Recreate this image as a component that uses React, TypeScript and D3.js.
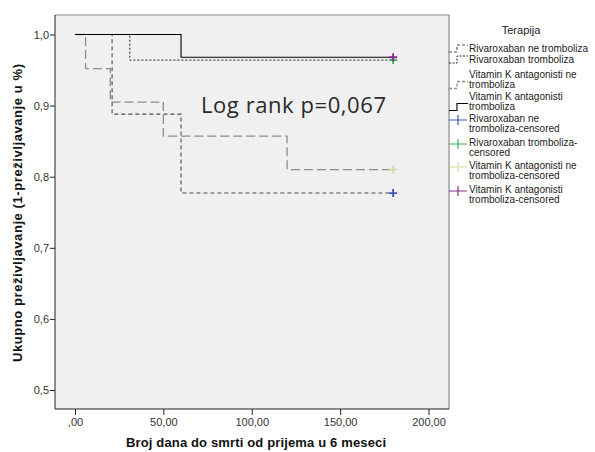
import React, { useEffect, useRef } from 'react';
import * as d3 from 'd3';

// Kaplan-Meier steps
const rivaNeTimes = [0, 21, 60, 180];
const rivaNeSurv = [1, 0.888, 0.777, 0.777];
const rivaTimes = [0, 31, 180];
const rivaSurv = [1, 0.964, 0.964];
const vkaNeTimes = [0, 6, 20, 50, 120, 180];
const vkaNeSurv = [1, 0.952, 0.905, 0.857, 0.81, 0.81];
const vkaTimes = [0, 60, 180];
const vkaSurv = [1, 0.968, 0.968];

const xTicks = [0, 50, 100, 150, 200];
const yTicks = [0.5, 0.6, 0.7, 0.8, 0.9, 1.0];

const series = [
  { name: 'Rivaroxaban ne tromboliza', times: rivaNeTimes, surv: rivaNeSurv, color: '#4a4a4a', dash: '4,3', width: 1.1 },
  { name: 'Rivaroxaban tromboliza', times: rivaTimes, surv: rivaSurv, color: '#222', dash: '2,2', width: 1 },
  { name: 'Vitamin K antagonisti ne tromboliza', times: vkaNeTimes, surv: vkaNeSurv, color: '#8c8c8c', dash: '9,4', width: 1.3 },
  { name: 'Vitamin K antagonisti tromboliza', times: vkaTimes, surv: vkaSurv, color: '#000', dash: null, width: 1.1 },
];

const censored = [
  { lines: ['Rivaroxaban ne', 'tromboliza-censored'], color: '#3d55b8', t: 180, s: rivaNeSurv[rivaNeSurv.length - 1] },
  { lines: ['Rivaroxaban tromboliza-', 'censored'], color: '#3cb050', t: 180, s: rivaSurv[rivaSurv.length - 1] },
  { lines: ['Vitamin K antagonisti ne', 'tromboliza-censored'], color: '#dcd6a0', t: 180, s: vkaNeSurv[vkaNeSurv.length - 1] },
  { lines: ['Vitamin K antagonisti', 'tromboliza-censored'], color: '#8a2a8e', t: 180, s: vkaSurv[vkaSurv.length - 1] },
];

const lineLegend = [
  { lines: ['Rivaroxaban ne tromboliza'], y: 48 },
  { lines: ['Rivaroxaban tromboliza'], y: 59 },
  { lines: ['Vitamin K antagonisti ne', 'tromboliza'], y: 74 },
  { lines: ['Vitamin K antagonisti', 'tromboliza'], y: 96 },
];
const censLegendY = [118, 142, 165, 189];

const App = () => {
  const svgRef = useRef(null);

  useEffect(() => {
    const svg = d3.select(svgRef.current);
    svg.selectAll('*').remove();

    const left = 55, right = 449, top = 15, bottom = 409;
    const x = d3.scaleLinear().domain([-11.3, 211.6]).range([left, right]);
    const y = d3.scaleLinear().domain([0.4733, 1.0274]).range([bottom, top]);

    svg.append('rect').attr('width', 595).attr('height', 452).attr('fill', '#fff');
    svg.append('rect')
      .attr('x', left).attr('y', top)
      .attr('width', right - left).attr('height', bottom - top)
      .attr('fill', '#f0f0f0');

    // top and right frame
    svg.append('path')
      .attr('d', `M${left},${top}H${right}V${bottom}`)
      .attr('fill', 'none').attr('stroke', '#8a8a8a').attr('stroke-width', 1.2);

    const font = 'Liberation Sans, Arial, sans-serif';

    const yAxis = svg.append('g')
      .attr('transform', `translate(${left},0)`)
      .call(d3.axisLeft(y).tickValues(yTicks).tickSize(5).tickFormat(d => d3.format('.1f')(d).replace('.', ',')));
    yAxis.select('.domain').attr('stroke', '#222').attr('d', `M0,${top}V${bottom}`);
    yAxis.selectAll('.tick line').attr('stroke', '#222');
    yAxis.selectAll('.tick text').attr('font-family', font).attr('font-size', 11).attr('fill', '#333').attr('x', -6);

    const xAxis = svg.append('g')
      .attr('transform', `translate(0,${bottom})`)
      .call(d3.axisBottom(x).tickValues(xTicks).tickSize(6).tickFormat(d => (d === 0 ? ',00' : d3.format('.2f')(d).replace('.', ','))));
    xAxis.select('.domain').attr('stroke', '#222').attr('d', `M${left},0H${right}`);
    xAxis.selectAll('.tick line').attr('stroke', '#222');
    xAxis.selectAll('.tick text').attr('font-family', font).attr('font-size', 11).attr('fill', '#333').attr('y', 9);

    const line = d3.line().curve(d3.curveStepAfter).x(d => x(d[0])).y(d => y(d[1]));
    series.forEach(s => {
      svg.append('path')
        .datum(s.times.map((t, i) => [t, s.surv[i]]))
        .attr('d', line)
        .attr('fill', 'none')
        .attr('stroke', s.color)
        .attr('stroke-width', s.width)
        .attr('stroke-dasharray', s.dash);
    });

    censored.forEach(c => {
      const cx = x(c.t), cy = y(c.s);
      svg.append('path')
        .attr('d', `M${cx - 4},${cy}H${cx + 4}M${cx},${cy - 4}V${cy + 4}`)
        .attr('stroke', c.color).attr('stroke-width', 1.8);
    });

    svg.append('text')
      .attr('x', 201).attr('y', 113)
      .attr('font-family', 'Open Sans, Noto Sans, sans-serif')
      .attr('font-size', 22).attr('fill', '#2a2a2a')
      .attr('textLength', 185).attr('lengthAdjust', 'spacing')
      .text('Log rank p=0,067');

    // axis titles
    svg.append('text')
      .attr('transform', `translate(22,213) rotate(-90)`)
      .attr('text-anchor', 'middle')
      .attr('font-family', font).attr('font-weight', 'bold').attr('font-size', 13).attr('fill', '#111')
      .attr('textLength', 298).attr('lengthAdjust', 'spacing')
      .text('Ukupno preživljavanje (1-preživljavanje u %)');
    svg.append('text')
      .attr('x', 256).attr('y', 447)
      .attr('text-anchor', 'middle')
      .attr('font-family', font).attr('font-weight', 'bold').attr('font-size', 13).attr('fill', '#111')
      .attr('textLength', 260).attr('lengthAdjust', 'spacing')
      .text('Broj dana do smrti od prijema u 6 meseci');

    // legend
    const lg = svg.append('g');
    lg.append('text').attr('x', 521).attr('y', 34).attr('text-anchor', 'middle')
      .attr('font-family', font).attr('font-size', 11).attr('fill', '#222').text('Terapija');

    const addText = (lines, yy) => {
      lines.forEach((l, i) => {
        lg.append('text').attr('x', 469).attr('y', yy + i * 10.5 + 3.5)
          .attr('font-family', font).attr('font-size', 10).attr('fill', '#222').text(l);
      });
    };

    lineLegend.forEach((e, i) => {
      const s = series[i];
      const lowY = e.y + (e.lines.length - 1) * 10.5 + 4;
      const highY = lowY - 7;
      lg.append('path')
        .attr('d', `M449,${lowY}H457V${highY}H468`)
        .attr('fill', 'none').attr('stroke', s.color).attr('stroke-width', s.width)
        .attr('stroke-dasharray', s.dash ? (i === 1 ? '2,1.5' : '3,2') : null);
      addText(e.lines, e.y);
    });

    censored.forEach((c, i) => {
      const yy = censLegendY[i];
      lg.append('path')
        .attr('d', `M449,${yy + 2}H467M458,${yy - 3}V${yy + 7}`)
        .attr('stroke', c.color).attr('stroke-width', 1.2).attr('fill', 'none');
      addText(c.lines, yy);
    });
  }, []);

  return (
    <svg ref={svgRef} width={595} height={452} style={{ position: 'absolute', left: 0, top: 0 }} />
  );
};

export default App;
